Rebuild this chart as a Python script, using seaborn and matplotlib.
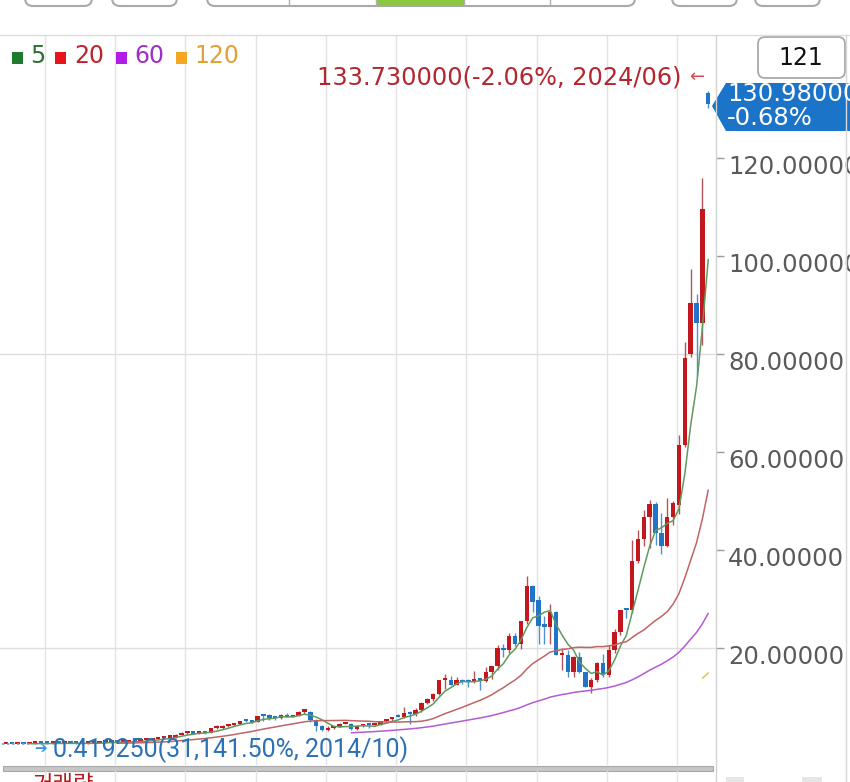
import numpy as np
import pandas as pd
import matplotlib
matplotlib.use("Agg")
import matplotlib.pyplot as plt
import seaborn as sns
from matplotlib.patches import Rectangle, FancyBboxPatch, Polygon
from matplotlib import transforms

# ---------------- data (monthly candles 2014/06 .. 2024/06) ----------------
months = [str(p).replace("-", "/") for p in pd.period_range("2014-06", "2024-06", freq="M")]

opens = [0.464, 0.464, 0.438, 0.486, 0.461, 0.488, 0.524,
         0.501, 0.490, 0.570, 0.523, 0.555, 0.553, 0.503, 0.499, 0.563, 0.616, 0.710, 0.795,
         0.808, 0.733, 0.785, 0.890, 0.888, 1.165, 1.175, 1.428, 1.533, 1.713, 1.730, 2.305,
         2.580, 2.730, 2.540, 2.720, 2.600, 3.600, 3.615, 4.060, 4.235, 4.470, 5.170, 5.020,
         4.880, 6.145, 6.050, 5.790, 5.620, 6.310, 5.920, 6.120, 7.020, 7.030, 5.270, 4.085,
         3.265, 3.595, 3.863, 4.490, 4.525, 3.385, 4.105, 4.218, 4.185, 4.350, 5.030, 5.420,
         6.000, 5.910, 6.740, 6.590, 7.310, 8.875, 9.500, 10.615, 13.375, 13.530, 12.535, 13.400,
         13.110, 12.990, 13.715, 13.350, 15.010, 16.245, 20.090, 19.500, 22.385, 20.720, 25.570, 32.680,
         29.810, 24.490, 24.385, 27.290, 18.550, 18.670, 15.160, 18.160, 15.090, 12.140, 13.500, 16.920,
         14.430, 19.540, 23.220, 27.780, 27.750, 37.830, 42.300, 46.730, 49.360, 43.500, 40.780, 46.770,
         49.240, 61.530, 80.000, 90.360, 86.400, 133.200]
highs = [0.479, 0.487, 0.488, 0.498, 0.490, 0.528, 0.530,
         0.513, 0.573, 0.575, 0.565, 0.573, 0.563, 0.515, 0.588, 0.630, 0.718, 0.805, 0.848,
         0.810, 0.795, 0.900, 0.938, 1.168, 1.200, 1.438, 1.613, 1.730, 1.815, 2.363, 2.935,
         3.020, 3.000, 2.910, 2.730, 3.610, 4.210, 4.250, 4.375, 4.750, 5.200, 5.470, 5.040,
         6.160, 6.260, 6.440, 5.890, 6.560, 6.730, 6.410, 7.050, 7.320, 7.180, 5.440, 4.340,
         4.035, 4.075, 4.785, 4.780, 4.735, 4.175, 4.430, 4.480, 4.630, 5.100, 5.500, 6.000,
         6.490, 7.910, 7.110, 7.720, 9.000, 9.770, 10.870, 13.470, 14.730, 14.375, 14.125, 13.715,
         13.690, 15.370, 13.930, 16.215, 16.350, 20.540, 20.880, 23.040, 23.040, 25.600, 34.650, 32.800,
         30.710, 26.520, 28.950, 27.540, 19.980, 19.600, 18.300, 19.270, 15.100, 13.920, 17.200, 18.780,
         20.540, 23.890, 27.830, 28.110, 41.940, 43.990, 48.090, 50.270, 49.800, 47.610, 50.550, 50.090,
         63.490, 82.390, 97.400, 92.220, 115.820, 133.730]
lows = [0.457, 0.435, 0.433, 0.458, 0.41925, 0.483, 0.485,
        0.473, 0.480, 0.515, 0.515, 0.538, 0.503, 0.475, 0.470, 0.548, 0.588, 0.675, 0.780,
        0.619, 0.663, 0.775, 0.870, 0.883, 1.065, 1.170, 1.383, 1.498, 1.625, 1.675, 2.150,
        2.465, 2.450, 2.380, 2.365, 2.560, 3.420, 3.490, 3.820, 4.140, 4.410, 4.970, 4.630,
        4.800, 5.200, 5.330, 5.230, 5.450, 5.905, 5.850, 6.050, 6.590, 4.885, 3.110, 3.110,
        3.110, 3.570, 3.790, 4.395, 3.320, 3.365, 3.960, 3.690, 4.080, 4.210, 4.980, 5.030,
        5.840, 5.730, 4.520, 6.140, 6.860, 8.480, 9.240, 10.450, 11.655, 12.415, 12.425, 12.640,
        12.075, 12.810, 11.430, 13.100, 13.625, 15.425, 18.190, 18.890, 20.430, 19.850, 24.850, 27.360,
        20.890, 20.800, 20.890, 18.510, 15.570, 14.050, 14.060, 15.000, 11.940, 10.810, 13.120, 14.030,
        14.030, 19.000, 22.600, 26.220, 27.240, 37.360, 40.870, 40.310, 40.980, 39.230, 40.560, 45.010,
        47.320, 61.060, 79.440, 75.610, 81.820, 130.300]
closes = [0.464, 0.438, 0.486, 0.461, 0.488, 0.524, 0.501,
          0.490, 0.570, 0.523, 0.555, 0.553, 0.503, 0.499, 0.563, 0.616, 0.710, 0.795, 0.824,
          0.733, 0.785, 0.890, 0.888, 1.165, 1.175, 1.428, 1.533, 1.713, 1.730, 2.305, 2.668,
          2.730, 2.540, 2.720, 2.600, 3.600, 3.615, 4.060, 4.235, 4.470, 5.170, 5.020, 4.840,
          6.145, 6.050, 5.790, 5.620, 6.310, 5.920, 6.120, 7.020, 7.030, 5.270, 4.085, 3.338,
          3.595, 3.863, 4.490, 4.525, 3.385, 4.105, 4.218, 4.185, 4.350, 5.030, 5.420, 5.880,
          5.910, 6.740, 6.590, 7.310, 8.875, 9.500, 10.615, 13.375, 13.530, 12.535, 13.400, 13.055,
          12.990, 13.715, 13.350, 15.010, 16.245, 20.000, 19.500, 22.385, 20.720, 25.570, 32.680, 29.410,
          24.490, 24.385, 27.290, 18.550, 18.670, 15.160, 18.160, 15.090, 12.140, 13.500, 16.920, 14.610,
          19.540, 23.220, 27.780, 27.750, 37.830, 42.300, 46.730, 49.360, 43.500, 40.780, 46.770, 49.520,
          61.530, 79.110, 90.360, 86.400, 109.630, 130.980]

ma_windows = [5, 20, 60, 120]
ma_line_colors = ["#5f9a5f", "#c06464", "#b45ad6", "#d8c84a"]
legend_box_colors = ["#1e7a2e", "#e8141c", "#b01ee6", "#f5a623"]
legend_text_colors = ["#2f6e32", "#c0222c", "#a02ec4", "#e3a035"]
y_ticks = [20, 40, 60, 80, 100, 120]
day_change_pct = -0.68
visible_bars = 121

# ---------------- figure ----------------
W, H = 850, 782
sns.set_theme(style="white")
plt.rcParams["font.family"] = ["DejaVu Sans", "Noto Sans CJK KR"]

fig = plt.figure(figsize=(W / 100, H / 100), dpi=100)
fig.patch.set_facecolor("white")

bar_step = 5.852
x0_px = 6.0
ax = fig.add_axes([0, 1 - 765 / H, 716 / W, (765 - 35) / H])
ax.set_facecolor("white")
ax.set_xlim((0 - x0_px) / bar_step, (716 - x0_px) / bar_step)
ax.set_ylim((746 - 765) / 4.9, (746 - 35) / 4.9)
for s in ax.spines.values():
    s.set_visible(False)

df = pd.DataFrame({"month": months, "open": opens, "high": highs, "low": lows, "close": closes})
df["i"] = np.arange(len(df))
up = df["close"] >= df["open"]

# grid
for k in range(10):
    ax.axvline(6.66 + 12 * k, color="#e3e3e3", lw=1, zorder=0)
for gy in (20, 80):
    ax.axhline(gy, color="#dedede", lw=1, zorder=0)

# wicks
wick_cols = np.where(up, "#b4545a", "#4f8fd2")
ax.vlines(df["i"], df["low"], df["high"], colors=wick_cols, lw=1.0, zorder=2)
# bodies
body_bottom = np.minimum(df["open"], df["close"])
body_h = np.maximum(np.abs(df["close"] - df["open"]), 0.45)
body_cols = np.where(up, "#c3161d", "#2274c6")
ax.bar(df["i"], body_h, bottom=body_bottom, width=0.76, color=body_cols, linewidth=0, zorder=3)

# moving averages
for w, c in zip(ma_windows, ma_line_colors):
    df[f"ma{w}"] = df["close"].rolling(w, min_periods=w).mean()
    sns.lineplot(data=df.dropna(subset=[f"ma{w}"]), x="i", y=f"ma{w}", ax=ax,
                 color=c, lw=1.1, zorder=4, legend=False)
ax.set_xlabel("")
ax.set_ylabel("")

# right ticks
ax.yaxis.tick_right()
ax.set_yticks(y_ticks)
ax.tick_params(axis="y", length=6, width=1, color="#9a9a9a", labelright=False, labelleft=False, direction="out")
ax.tick_params(axis="x", bottom=False, labelbottom=False)
lab_tr = transforms.offset_copy(ax.get_yaxis_transform(), fig=fig, x=0, y=-9, units="dots")
for t in y_ticks:
    ax.text(728 / 716, t, f"{t:.5f}", transform=lab_tr, ha="left", va="center",
            fontsize=17.5, color="#5a5a5a", clip_on=False)

# low marker
low_i = int(np.argmin(lows))
low_v = lows[low_i]
last = closes[-1]
ax.plot([ax.get_xlim()[0] + 0.4, low_i], [low_v, low_v], ls=(0, (1.5, 1.5)), color="#7f9bbf", lw=1.2, zorder=5)

# ---------------- overlay in pixel coords ----------------
ov = fig.add_axes([0, 0, 1, 1], zorder=5)
ov.set_xlim(0, W)
ov.set_ylim(H, 0)
ov.axis("off")
ov.patch.set_alpha(0)

# top UI buttons
for bx, bw in [(25, 67), (112, 65), (207, 428), (672, 65), (755, 65)]:
    ov.add_patch(FancyBboxPatch((bx, -40), bw, 46, boxstyle="round,pad=0,rounding_size=8",
                                fc="white", ec="#a9a9a9", lw=1.5))
ov.add_patch(Rectangle((376, -10), 88, 15.5, fc="#8dc63f", ec="none"))
for dx in (289, 376, 464, 550):
    ov.plot([dx, dx], [-5, 5.5], color="#b0b0b0", lw=1)

# frame lines
ov.plot([0, W], [35, 35], color="#dcdcdc", lw=1)
ov.plot([716, 716], [35, H], color="#d2d2d2", lw=1)
ov.plot([846, 846], [35, H], color="#d8d8d8", lw=1)
for k in range(10):
    gx = x0_px + (6.66 + 12 * k) * bar_step
    ov.plot([gx, gx], [771, H], color="#e3e3e3", lw=1)

# legend
leg_boxes_x = [12, 55, 116, 176]
leg_text_x = [30, 74, 134, 194]
for w, bx, tx, bc, tc in zip(ma_windows, leg_boxes_x, leg_text_x, legend_box_colors, legend_text_colors):
    ov.add_patch(Rectangle((bx, 52), 11, 12, fc=bc, ec="none"))
    ov.text(tx, 63, str(w), color=tc, fontsize=17, ha="left", va="baseline")

# period count box
ov.add_patch(FancyBboxPatch((758, 37), 87, 41, boxstyle="round,pad=0,rounding_size=7",
                            fc="white", ec="#a9a9a9", lw=1.3))
ov.text(801, 58, str(visible_bars), fontsize=17, color="#111111", ha="center", va="center")

# high annotation
hi_i = int(np.argmax(highs))
hi_v = highs[hi_i]
hi_txt = f"{hi_v:.6f}({(last / hi_v - 1) * 100:.2f}%, {months[hi_i]})"
ov.text(682, 78, hi_txt, fontsize=17.3, color="#b3262d", ha="right", va="center")
ov.text(697, 77, "←", fontsize=13, color="#e0464c", ha="center", va="center")

# current price tag
ov.add_patch(Polygon([(712, 106), (726, 83), (W + 5, 83), (W + 5, 131), (726, 131)],
                     closed=True, fc="#1b74c8", ec="none"))
ov.text(727, 94, f"{last:.5f}", fontsize=17.5, color="white", ha="left", va="center")
ov.text(727, 118, f"{day_change_pct:.2f}%", fontsize=17.5, color="white", ha="left", va="center")

# low annotation
low_txt = f"{low_v:.6f}({(last / low_v - 1) * 100:,.2f}%, {months[low_i]})"
ov.text(41, 749, "➔", fontsize=11, color="#3d90e3", ha="center", va="center")
ov.text(53, 750, low_txt, fontsize=18, color="#2a71b6", ha="left", va="center",
        family=["Roboto", "DejaVu Sans"])

# volume pane separator
ov.add_patch(Rectangle((3, 766), 710, 5, fc="#c6c6c6", ec="#a8a8a8", lw=0.8))
ov.add_patch(Rectangle((726, 777), 18, 10, fc="#e6e6e6", ec="none"))
ov.add_patch(Rectangle((802, 777), 20, 10, fc="#e6e6e6", ec="none"))
ov.text(33, 773, "거래량", fontsize=16, color="#b01c22", ha="left", va="top",
        family=["Noto Sans CJK KR", "DejaVu Sans"])

fig.savefig("out.png", dpi=100)
